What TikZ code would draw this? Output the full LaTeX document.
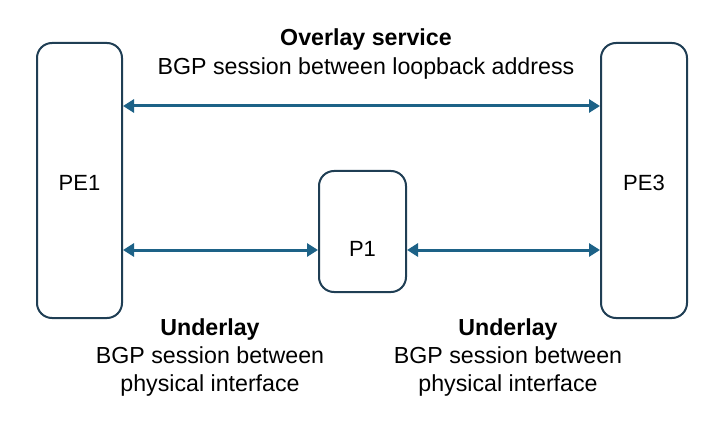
\documentclass[tikz,border=0pt]{standalone}
\usepackage{fontspec}
\setmainfont{Liberation Sans}
\usetikzlibrary{arrows.meta}
\definecolor{boxline}{HTML}{1F3E54}
\definecolor{arrowc}{HTML}{1D6287}
\tikzset{
  dev/.style={draw=boxline, line width=2pt, rounded corners=15pt, fill=white},
  link/.style={draw=arrowc, line width=3pt, {Triangle[length=11pt,width=13pt]}-{Triangle[length=11pt,width=13pt]}, shorten <=1pt, shorten >=1pt},
  lbl/.style={font=\fontsize{23.2}{28.3}\selectfont, align=center, inner sep=0pt},
  dname/.style={font=\fontsize{22}{25}\selectfont, inner sep=0pt}
}
\begin{document}
\begin{tikzpicture}[x=1pt,y=1pt]
\useasboundingbox (0,0) rectangle (721,424);
% devices (y = 424 - pixel y)
\draw[dev] (37,106) rectangle (122,381);
\draw[dev] (601,106) rectangle (687,381);
\draw[dev] (319,132) rectangle (406,253);
\coordinate (pe1r) at (122,318);
\coordinate (pe3l) at (601,318);
\coordinate (pe1rb) at (122,174);
\coordinate (p1l) at (319,174);
\coordinate (p1r) at (406,174);
\coordinate (pe3lb) at (601,174);
\node[dname] (pe1) at (79.5,241) {PE1};
\node[dname] (pe3) at (644,241) {PE3};
\node[dname] (p1) at (362.5,175) {P1};
\draw[link] (pe1r) -- (pe3l);
\draw[link] (pe1rb) -- (p1l);
\draw[link] (p1r) -- (pe3lb);
\node[lbl] (ov) at (366,370) {\textbf{Overlay service}\\BGP session between loopback address};
\node[lbl] (ul) at (210,66.5) {\textbf{Underlay}\\BGP session between\\physical interface};
\node[lbl] (ur) at (508,66.5) {\textbf{Underlay}\\BGP session between\\physical interface};
\end{tikzpicture}
\end{document}
